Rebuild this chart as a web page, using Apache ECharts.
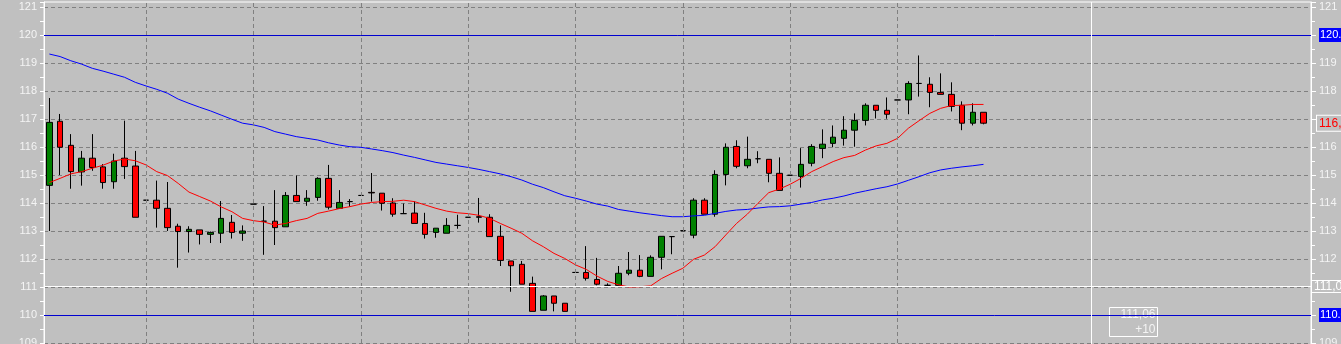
<!DOCTYPE html>
<html>
<head>
<meta charset="utf-8">
<script src="https://cdn.jsdelivr.net/npm/echarts@6/dist/echarts.min.js"></script>
<style>
html,body{margin:0;padding:0;background:#c0c0c0;}
#chart{width:1341px;height:344px;}
</style>
</head>
<body>
<div id="chart"></div>
<script>
// ---- data ----
var openPx = [114.63,116.92,116.06,115.11,115.60,115.29,114.76,115.60,115.32,114.10,
  114.10,113.81,113.17,112.98,113.04,112.88,112.92,113.31,112.92,113.96,
  113.35,113.35,113.15,114.27,114.06,114.20,114.88,113.81,114.05,114.27,
  114.38,114.35,114.00,113.62,113.64,113.27,112.95,112.92,113.20,113.49,
  113.51,113.49,112.81,111.93,111.81,111.13,110.17,110.68,110.42,111.52,
  111.52,111.27,111.06,111.06,111.49,111.60,111.38,112.06,112.80,113.01,
  112.85,114.10,113.60,115.02,116.02,115.33,115.58,115.56,115.06,114.99,
  114.95,115.42,115.95,116.13,116.31,116.60,116.95,117.49,117.31,117.68,
  117.68,118.27,118.24,117.95,117.88,117.49,116.85,117.24];
var closePx = [116.88,115.99,115.12,115.60,115.27,114.73,115.50,115.30,113.49,114.10,
  113.81,113.12,112.98,113.06,112.88,112.95,113.45,112.95,113.00,113.96,
  113.35,113.12,114.27,114.05,114.17,114.88,113.85,114.02,114.05,114.27,
  114.36,113.99,113.60,113.62,113.27,112.88,113.10,113.20,113.20,113.49,
  113.49,112.80,111.95,111.76,111.10,110.13,110.68,110.42,110.13,111.52,
  111.31,111.10,111.06,111.49,111.60,111.38,112.06,112.81,112.80,113.01,
  114.10,113.60,115.02,115.99,115.31,115.56,115.58,115.06,114.45,114.99,
  115.38,116.02,116.10,116.35,116.60,116.95,117.49,117.31,117.17,117.68,
  118.27,118.27,117.95,117.88,117.45,116.85,117.24,116.85];
var lowPx = [113.00,115.00,114.51,114.62,115.15,114.51,114.51,114.86,113.49,114.10,
  113.12,113.00,111.69,112.23,112.52,112.57,112.57,112.73,112.65,113.96,
  112.15,112.50,113.15,114.05,113.90,114.08,113.77,113.81,113.87,114.27,
  114.05,113.73,113.51,113.62,113.27,112.73,112.76,112.92,113.08,113.49,
  113.30,112.80,111.75,110.83,111.10,110.13,110.17,110.13,110.13,111.52,
  111.23,111.06,111.06,111.06,111.42,111.35,111.38,111.63,112.17,113.01,
  112.74,113.60,113.51,114.63,115.24,115.24,115.42,114.74,114.45,114.99,
  114.55,115.31,115.60,115.99,116.05,116.01,116.77,117.02,117.01,117.68,
  117.17,117.80,117.42,117.88,117.27,116.60,116.77,116.81];
var highPx = [117.75,117.18,116.46,115.86,116.46,115.39,115.76,116.94,115.86,114.10,
  114.80,114.75,113.26,113.17,113.04,112.98,114.07,113.57,113.20,113.96,
  113.89,114.46,114.39,114.98,114.46,114.92,115.36,114.46,114.14,114.27,
  115.07,114.35,114.17,113.98,114.06,113.65,113.10,113.46,113.58,113.49,
  114.18,113.60,113.20,111.93,111.93,111.37,110.71,110.68,110.42,111.52,
  112.46,112.04,111.13,111.75,112.25,112.14,112.13,112.81,112.80,113.01,
  114.17,114.17,115.17,116.13,116.24,116.37,115.85,115.56,115.63,114.99,
  115.96,116.10,116.63,116.77,117.10,117.20,117.56,117.49,117.77,117.68,
  118.35,119.27,118.49,118.63,118.31,117.63,117.56,117.24];
var maFast = [114.73,114.88,115.04,115.12,115.24,115.35,115.50,115.57,115.51,115.36,
  115.12,114.98,114.70,114.39,114.23,114.07,113.86,113.69,113.45,113.37,
  113.32,113.21,113.27,113.37,113.45,113.63,113.71,113.80,113.87,113.96,
  114.02,114.05,114.06,114.10,114.05,113.93,113.81,113.71,113.65,113.62,
  113.56,113.45,113.27,113.10,112.92,112.65,112.44,112.20,112.02,111.79,
  111.63,111.39,111.20,111.08,111.00,111.01,111.04,111.30,111.49,111.67,
  111.99,112.14,112.44,112.86,113.27,113.60,113.99,114.37,114.50,114.67,
  114.88,115.12,115.30,115.48,115.62,115.70,115.89,116.04,116.13,116.31,
  116.67,116.94,117.20,117.38,117.48,117.49,117.52,117.52];
var maSlow = [119.32,119.23,119.08,118.96,118.81,118.71,118.60,118.49,118.31,118.18,
  118.06,117.92,117.71,117.56,117.42,117.29,117.14,116.99,116.85,116.79,
  116.70,116.55,116.46,116.37,116.31,116.25,116.15,116.07,116.01,115.99,
  115.93,115.87,115.80,115.71,115.63,115.54,115.45,115.39,115.33,115.27,
  115.20,115.12,115.04,114.94,114.82,114.67,114.55,114.40,114.26,114.17,
  114.07,113.96,113.89,113.77,113.71,113.65,113.60,113.55,113.51,113.51,
  113.54,113.56,113.63,113.70,113.75,113.77,113.82,113.86,113.87,113.90,
  113.96,114.02,114.11,114.17,114.25,114.35,114.43,114.51,114.58,114.68,
  114.81,114.94,115.08,115.18,115.24,115.29,115.33,115.38];
var slotCount = 118;               // bars shown incl. empty right margin
var sessionLines = [9,19,29,39,49,59,69,79];
var levelLines = [120, 110];
var lastPrice = 116.85, lastPriceText = '116,85';
var crossIndex = 97, crossValue = 111.02, crossText = '111,06', crossCount = '+10';
var hiddenRightLabels = [120, 117, 111, 110];

// ---- build ----
var categories = [];
for (var i = 0; i < slotCount; i++) categories.push(String(i));
var ohlc = openPx.map(function (o, i) { return [o, closePx[i], lowPx[i], highPx[i]]; });

var FONT = 'Liberation Sans';
var LABEL = '#f4f4f4';
var GRIDC = '#808080';

function intOnly(v) { return Math.abs(v - Math.round(v)) < 1e-6 ? String(Math.round(v)) : ''; }

var chart = echarts.init(document.getElementById('chart'), null, {renderer: 'canvas'});

var option = {
  animation: false,
  backgroundColor: '#c0c0c0',
  textStyle: {fontFamily: FONT},
  grid: {left: 44, right: 30, top: 2, bottom: -27, containLabel: false, outerBoundsMode: 'none',
    show: true, borderColor: '#ffffff', borderWidth: 1, backgroundColor: 'transparent'},
  xAxis: {
    type: 'category', data: categories, boundaryGap: true,
    axisLine: {show: false}, axisTick: {show: false}, axisLabel: {show: false}, splitLine: {show: false}
  },
  yAxis: [{
    type: 'value', position: 'left', min: 108, max: 121 + 5 / 28, interval: 1, scale: true,
    axisLine: {show: true, lineStyle: {color: '#ffffff', width: 1}},
    axisTick: {show: true, length: 4, lineStyle: {color: '#ffffff'}},
    minorTick: {show: true, splitNumber: 2, length: 4, lineStyle: {color: '#ffffff'}},
    axisLabel: {color: LABEL, fontSize: 11, fontFamily: FONT, margin: 7, formatter: intOnly, showMaxLabel: false},
    splitLine: {show: true, showMaxLine: false, showMinLine: false, lineStyle: {color: GRIDC, type: [4, 3], width: 1}}
  }, {
    type: 'value', position: 'right', min: 108, max: 121 + 5 / 28, interval: 1, scale: true,
    axisLine: {show: true, lineStyle: {color: '#ffffff', width: 1}},
    axisTick: {show: true, length: 5, lineStyle: {color: '#ffffff'}},
    minorTick: {show: true, splitNumber: 2, length: 4, lineStyle: {color: '#ffffff'}},
    axisLabel: {color: LABEL, fontSize: 11, fontFamily: FONT, margin: 8, showMaxLabel: false,
      formatter: function (v) { var s = intOnly(v); if (s && hiddenRightLabels.indexOf(Number(s)) >= 0) return ''; return s; }},
    splitLine: {show: false}
  }],
  series: [
    {
      type: 'line', data: [], z: 1, silent: true,
      markLine: {
        silent: true, symbol: ['none', 'none'], animation: false,
        label: {show: false},
        lineStyle: {color: GRIDC, type: [4, 3], width: 1},
        data: sessionLines.map(function (ix) { return {xAxis: ix}; })
      }
    },
    {
      type: 'candlestick', data: ohlc, z: 2, barWidth: 6,
      itemStyle: {color: '#008000', color0: '#ff0000', borderColor: '#000000', borderColor0: '#000000', borderColorDoji: '#000000', borderWidth: 1}
    },
    {
      type: 'line', data: maSlow, z: 3, showSymbol: false, symbol: 'none', smooth: false,
      lineStyle: {color: '#0000ff', width: 1}
    },
    {
      type: 'line', data: maFast, z: 3, showSymbol: false, symbol: 'none', smooth: false,
      lineStyle: {color: '#ff0000', width: 1}
    },
    {
      type: 'line', data: [], z: 4, silent: true,
      markLine: {
        silent: true, symbol: ['none', 'none'], animation: false,
        data: [
          {yAxis: levelLines[0], lineStyle: {color: '#0000d0', type: 'solid', width: 1},
           label: {show: true, position: 'end', distance: 8, formatter: levelLines[0].toFixed(2), color: '#ffffff', backgroundColor: '#0000ff', padding: [1, 1, 1, 1], fontSize: 11, lineHeight: 12, fontFamily: FONT}},
          {yAxis: levelLines[1], lineStyle: {color: '#0000d0', type: 'solid', width: 1},
           label: {show: true, position: 'end', distance: 8, formatter: levelLines[1].toFixed(2), color: '#ffffff', backgroundColor: '#0000ff', padding: [1, 1, 1, 1], fontSize: 11, lineHeight: 12, fontFamily: FONT}},
          {yAxis: lastPrice, lineStyle: {color: 'rgba(0,0,0,0)', width: 0},
           label: {show: true, position: 'end', distance: 6, formatter: lastPriceText, color: '#ff0000', backgroundColor: '#c0c0c0', borderColor: '#ffffff', borderWidth: 1, padding: [2, 3, 1, 2], fontSize: 12, lineHeight: 12, fontFamily: FONT}},
          {yAxis: crossValue, lineStyle: {color: '#ffffff', type: 'solid', width: 1},
           label: {show: true, position: 'end', distance: 1, formatter: crossText, color: '#ffffff', backgroundColor: '#c0c0c0', borderColor: '#ffffff', borderWidth: 1, padding: [0, 2, 0, 2], fontSize: 12, lineHeight: 11, fontFamily: FONT}},
          {xAxis: crossIndex, lineStyle: {color: '#ffffff', type: 'solid', width: 1}, label: {show: false}}
        ]
      }
    }
  ]
};
chart.setOption(option);

var p = chart.convertToPixel({xAxisIndex: 0, yAxisIndex: 0}, [crossIndex, crossValue]);
var bx = Math.round(p[0] + 18) + 0.5, by = Math.round(p[1] + 21) + 0.5;
chart.setOption({
  graphic: [{
    type: 'group', z: 100,
    children: [
      {type: 'rect', shape: {x: bx, y: by, width: 48, height: 29}, style: {fill: '#c0c0c0', stroke: '#ffffff', lineWidth: 1}},
      {type: 'text', x: bx + 46, y: by + 7, style: {text: crossText, fill: '#f4f4f4', font: '12px "' + FONT + '"', align: 'right', verticalAlign: 'middle'}},
      {type: 'text', x: bx + 46, y: by + 22, style: {text: crossCount, fill: '#f4f4f4', font: '12px "' + FONT + '"', align: 'right', verticalAlign: 'middle'}}
    ]
  }]
});
</script>
</body>
</html>
